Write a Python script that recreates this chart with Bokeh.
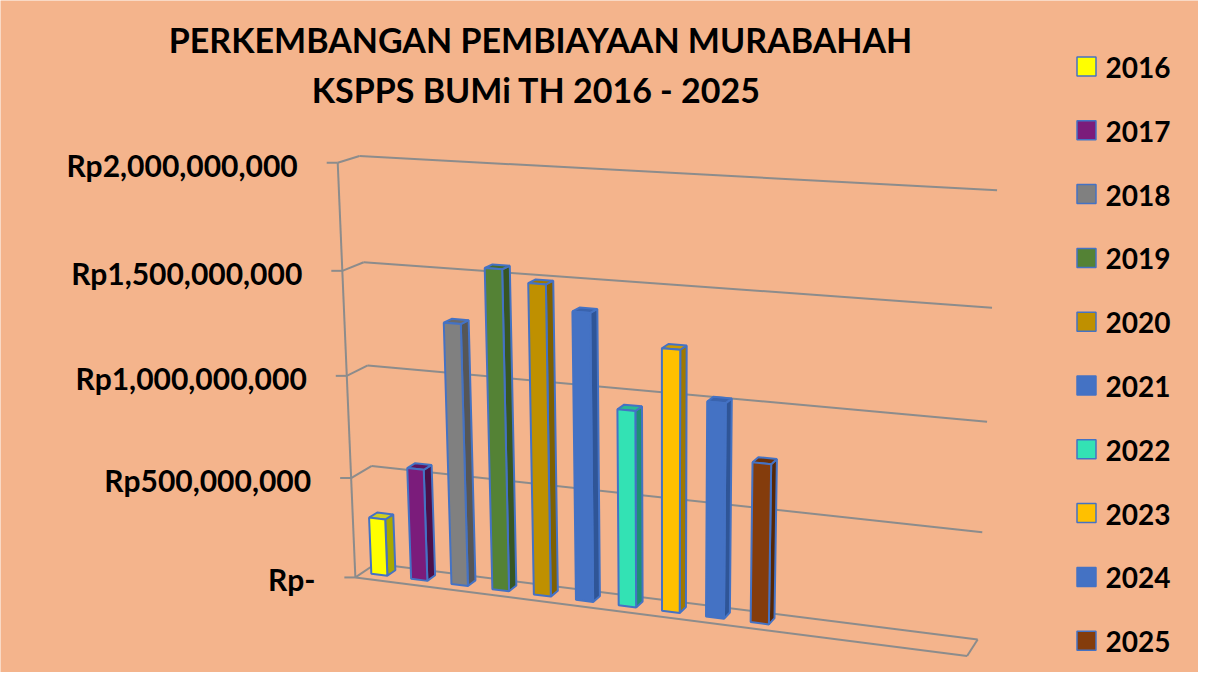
import numpy as np
from bokeh.plotting import figure
from bokeh.models import Range1d
from bokeh.core.properties import value
from bokeh.embed import file_html
from bokeh.resources import INLINE

years = ["2016", "2017", "2018", "2019", "2020", "2021", "2022", "2023", "2024", "2025"]
amounts = [285_000_000, 555_000_000, 1_275_000_000, 1_545_000_000, 1_490_000_000,
           1_375_000_000, 940_000_000, 1_240_000_000, 1_015_000_000, 755_000_000]
front_colors = ["#FFFF00", "#7B1C7B", "#808080", "#548235", "#BF9000",
                "#4472C4", "#33E2B4", "#FFC000", "#4472C4", "#843C0C"]
side_colors = ["#A8A800", "#4A104A", "#565656", "#375623", "#7F6000",
               "#2F5597", "#1F8F72", "#A07800", "#2F5597", "#552706"]
top_colors = ["#CFCF20", "#5E155E", "#6A6A6A", "#466C2C", "#9F7800",
              "#3A63AD", "#2AB893", "#CC9A00", "#3A63AD", "#6B3109"]
value_ticks = [0, 500_000_000, 1_000_000_000, 1_500_000_000, 2_000_000_000]
tick_labels = ["Rp-", "Rp500,000,000", "Rp1,000,000,000", "Rp1,500,000,000", "Rp2,000,000,000"]
title_lines = ["PERKEMBANGAN PEMBIAYAAN MURABAHAH", "KSPPS  BUMi TH 2016 - 2025"]

BG = "#F4B48C"
GRID = "#8C8C8C"
EDGE = "#4472C4"
FONT = value("Lato")
W, H = 1198, 672

# perspective of the excel 3-D chart, fitted on the corners of its box
# world: X across the categories 0..1, Y value in billions 0..2, Z depth 0 (front) .. 1 (back)
calib = [
    ((0, 0, 0), (355, 577)), ((1, 0, 0), (966.7, 656)),
    ((0, 0.5, 0), (350.7, 476.7)), ((0, 1.5, 0), (341.7, 270)), ((0, 2, 0), (337, 163)),
    ((0, 0, 1), (375, 565)), ((0, 0.5, 1), (371.7, 464)), ((0, 1.5, 1), (363, 261.7)),
    ((0, 2, 1), (359, 155.7)),
    ((1, 0, 1), (976.7, 638.3)), ((1, 0.5, 1), (981.7, 531.7)), ((1, 1, 1), (986.7, 421.7)),
    ((1, 1.5, 1), (991.7, 306.7)), ((1, 2, 1), (996.7, 190)),
]


def fit_camera(pairs):
    rows = []
    for (X, Y, Z), (u, v) in pairs:
        u, v = (u - 600) / 300, (v - 400) / 300
        rows.append([X, Y, Z, 1, 0, 0, 0, 0, -u * X, -u * Y, -u * Z, -u])
        rows.append([0, 0, 0, 0, X, Y, Z, 1, -v * X, -v * Y, -v * Z, -v])
    _, _, vt = np.linalg.svd(np.array(rows, dtype=float))
    return vt[-1].reshape(3, 4)


P = fit_camera(calib)


def proj(X, Y, Z):
    h = P @ np.array([X, Y, Z, 1.0])
    u = h[0] / h[2] * 300 + 600
    v = h[1] / h[2] * 300 + 400
    return u, H - v  # screen pixel -> plot units


p = figure(width=W, height=H, x_range=Range1d(0, W), y_range=Range1d(0, H),
           output_backend="svg", toolbar_location=None, tools="",
           x_axis_location=None, y_axis_location=None, min_border=0)
p.grid.visible = False
p.outline_line_color = None
p.background_fill_color = BG
p.border_fill_color = BG

# walls and floor
xs, ys = [], []


def seg(a, b):
    pa, pb = proj(*a), proj(*b)
    xs.append([pa[0], pb[0]])
    ys.append([pa[1], pb[1]])


for t in value_ticks:
    y = t / 1e9
    seg((0, y, 0), (0, y, 1))
    seg((0, y, 1), (1, y, 1))
seg((0, 0, 0), (0, 2, 0))
seg((0, 0, 0), (1, 0, 0))
seg((1, 0, 0), (1, 0, 1))
p.multi_line(xs, ys, line_color=GRID, line_width=2)

# axis ticks and labels
tx, ty, lx, ly = [], [], [], []
for t in value_ticks:
    fx, fy = proj(0, t / 1e9, 0)
    tx.append([fx - 11, fx])
    ty.append([fy, fy])
    lx.append(fx - 40)
    ly.append(fy - 2)
p.multi_line(tx, ty, line_color=GRID, line_width=2)
p.text(lx, ly, text=tick_labels, text_font=FONT, text_font_style="bold",
       text_font_size="30px", text_align="right", text_baseline="middle", text_color="black")

# bars
X0, DX, BW = 0.016, 0.0717, 0.029
Z0, BD = 0.35, 0.4
fr_x, fr_y, sd_x, sd_y, tp_x, tp_y = [], [], [], [], [], []
for i, amt in enumerate(amounts):
    xl = X0 + i * DX
    xr = xl + BW
    h = amt / 1e9
    z1 = Z0 + BD
    face = [(xl, 0, Z0), (xr, 0, Z0), (xr, h, Z0), (xl, h, Z0)]
    side = [(xr, 0, Z0), (xr, 0, z1), (xr, h, z1), (xr, h, Z0)]
    top = [(xl, h, Z0), (xr, h, Z0), (xr, h, z1), (xl, h, z1)]
    for pts, bx, by in ((face, fr_x, fr_y), (side, sd_x, sd_y), (top, tp_x, tp_y)):
        pp = [proj(*q) for q in pts]
        bx.append([q[0] for q in pp])
        by.append([q[1] for q in pp])

p.patches(sd_x, sd_y, fill_color=side_colors, line_color=EDGE, line_width=2)
p.patches(tp_x, tp_y, fill_color=top_colors, line_color=EDGE, line_width=2)
p.patches(fr_x, fr_y, fill_color=front_colors, line_color=EDGE, line_width=2)

# legend
leg_y = [H - (66 + i * 63.8) for i in range(len(years))]
p.scatter([1086] * len(years), leg_y, marker="square", size=19,
          fill_color=front_colors, line_color=EDGE, line_width=1.5)
p.text([1105] * len(years), [y - 1 for y in leg_y], text=years, text_font=FONT,
       text_font_style="bold", text_font_size="28px", text_baseline="middle", text_color="black")

# title
p.text([540, 540], [H - 39, H - 89], text=title_lines, text_font=FONT,
       text_font_style="bold", text_font_size="34px", text_align="center",
       text_baseline="middle", text_color="black")

open("out.html", "w").write(file_html(p, INLINE))
